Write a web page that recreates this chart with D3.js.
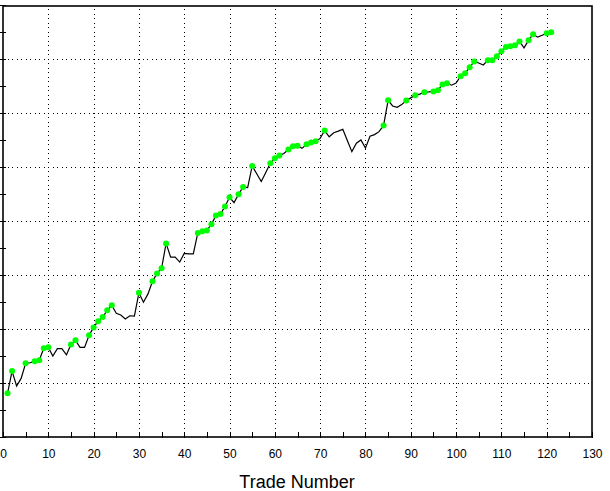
<!DOCTYPE html>
<html>
<head>
<meta charset="utf-8">
<script src="https://cdn.jsdelivr.net/npm/d3@7"></script>
<style>
  html, body { margin: 0; padding: 0; background: #fff; }
  svg { display: block; }
</style>
</head>
<body>
<svg id="chart" width="610" height="491"></svg>
<script>
// Equity value after each trade (trade number = index + 1)
const equity = [
  1.62, 2.44, 1.89, 2.17, 2.73, 2.75, 2.81, 2.84, 3.29, 3.32,
  3.00, 3.27, 3.27, 3.04, 3.43, 3.58, 3.32, 3.32, 3.77, 4.06,
  4.29, 4.44, 4.69, 4.88, 4.58, 4.52, 4.37, 4.49, 4.48, 5.34,
  4.99, 5.30, 5.77, 6.06, 6.25, 7.17, 6.66, 6.66, 6.48, 6.80,
  6.78, 6.78, 7.56, 7.62, 7.65, 7.88, 8.20, 8.26, 8.54, 8.88,
  8.68, 8.99, 9.26, 9.24, 10.04, 9.75, 9.46, 9.80, 10.14, 10.32,
  10.43, 10.50, 10.65, 10.77, 10.79, 10.69, 10.84, 10.91, 10.95, 11.06,
  11.35, 11.12, 11.27, 11.33, 11.40, 10.98, 10.57, 10.88, 11.00, 10.70,
  11.14, 11.20, 11.31, 11.54, 12.47, 12.26, 12.21, 12.31, 12.46, 12.56,
  12.66, 12.70, 12.77, 12.78, 12.80, 12.84, 13.06, 13.10, 13.03, 13.11,
  13.36, 13.47, 13.69, 13.91, 13.85, 13.78, 13.95, 13.95, 14.10, 14.29,
  14.44, 14.47, 14.51, 14.65, 14.41, 14.69, 14.92, 14.81, 14.88, 14.95,
  14.99
];
// Trades marked with a green dot
const markedTrades = [
  1, 2, 5, 7, 8, 9, 10, 15, 16, 19, 20, 21, 22, 23, 24, 30, 33, 34, 35, 36,
  43, 44, 45, 46, 47, 48, 49, 50, 52, 53, 55, 59, 60, 61, 63, 64, 65, 67, 68, 69,
  71, 84, 85, 89, 91, 93, 95, 96, 97, 98, 101, 102, 103, 104, 107, 108, 109, 110,
  111, 112, 113, 114, 116, 117, 120, 121
];
const xTickLabels = [0, 10, 20, 30, 40, 50, 60, 70, 80, 90, 100, 110, 120, 130];
const xMinorTicks = [5, 15, 25, 35, 45, 55, 65, 75, 85, 95, 105, 115, 125];
const xGrid = [10, 20, 30, 40, 50, 60, 70, 80, 90, 100, 110, 120];
const yTicks = [0, 1, 2, 3, 4, 5, 6, 7, 8, 9, 10, 11, 12, 13, 14, 15, 16];
const yGrid = [2, 4, 6, 8, 10, 12, 14];
const xTitle = "Trade Number";

(function () {
const points = equity.map((v, i) => ({ trade: i + 1, value: v }));
const markedSet = new Set(markedTrades);

const svg = d3.select("#chart");
const mLeft = 3, mRight = 592, mTop = 5, mBottom = 437;
const x = d3.scaleLinear().domain([0, 130]).range([mLeft, mRight]);
const y = d3.scaleLinear().domain([0, 16]).range([mBottom, mTop]);

// Grid (dotted)
const grid = svg.append("g").attr("stroke", "#000").attr("stroke-width", 1)
  .attr("stroke-dasharray", "1 3.5").attr("shape-rendering", "crispEdges");
grid.selectAll(".vg").data(xGrid).join("line")
  .attr("x1", d => Math.round(x(d)) + 0.5).attr("x2", d => Math.round(x(d)) + 0.5)
  .attr("y1", mTop + 4).attr("y2", mBottom);
grid.selectAll(".hg").data(yGrid).join("line")
  .attr("y1", d => Math.round(y(d)) + 0.5).attr("y2", d => Math.round(y(d)) + 0.5)
  .attr("x1", mLeft).attr("x2", mRight);

// Frame
svg.append("rect")
  .attr("x", mLeft).attr("y", mTop + 1)
  .attr("width", mRight - mLeft).attr("height", mBottom - mTop - 1)
  .attr("fill", "none").attr("stroke", "#000").attr("stroke-width", 1.6);

// X axis labels
const xAxis = d3.axisBottom(x).tickValues(xTickLabels).tickSize(0).tickPadding(0)
  .tickFormat(d3.format("d"));
const gx = svg.append("g").attr("transform", `translate(0,${mBottom})`).call(xAxis);
gx.select(".domain").remove();
gx.selectAll("text")
  .attr("y", 21).attr("dy", null)
  .attr("font-family", "'Liberation Sans', Arial, sans-serif")
  .attr("font-size", 12).attr("fill", "#000");

// X ticks
svg.append("g").attr("stroke", "#000").attr("stroke-width", 1)
  .selectAll("line").data(xTickLabels.concat(xMinorTicks)).join("line")
  .attr("x1", d => Math.round(x(d)) + 0.5).attr("x2", d => Math.round(x(d)) + 0.5)
  .attr("y1", mBottom - 5).attr("y2", mBottom + 1);

// Y axis ticks (no labels)
svg.append("g").attr("stroke", "#000").attr("stroke-width", 1)
  .selectAll("line").data(yTicks).join("line")
  .attr("y1", d => Math.round(y(d)) + 0.5).attr("y2", d => Math.round(y(d)) + 0.5)
  .attr("x1", 0).attr("x2", mLeft + 3);

// Equity line
const line = d3.line().x(d => x(d.trade)).y(d => y(d.value));
svg.append("path").datum(points)
  .attr("d", line).attr("fill", "none")
  .attr("stroke", "#000").attr("stroke-width", 1.2);

// Green markers
svg.append("g").selectAll("circle")
  .data(points.filter(p => markedSet.has(p.trade))).join("circle")
  .attr("cx", d => x(d.trade)).attr("cy", d => y(d.value))
  .attr("r", 3).attr("fill", "#00ff00");

// X title
svg.append("text")
  .attr("x", 297).attr("y", 488)
  .attr("text-anchor", "middle")
  .attr("font-family", "'Liberation Sans', Arial, sans-serif")
  .attr("font-size", 18).attr("fill", "#000")
  .text(xTitle);
})();
</script>
</body>
</html>
